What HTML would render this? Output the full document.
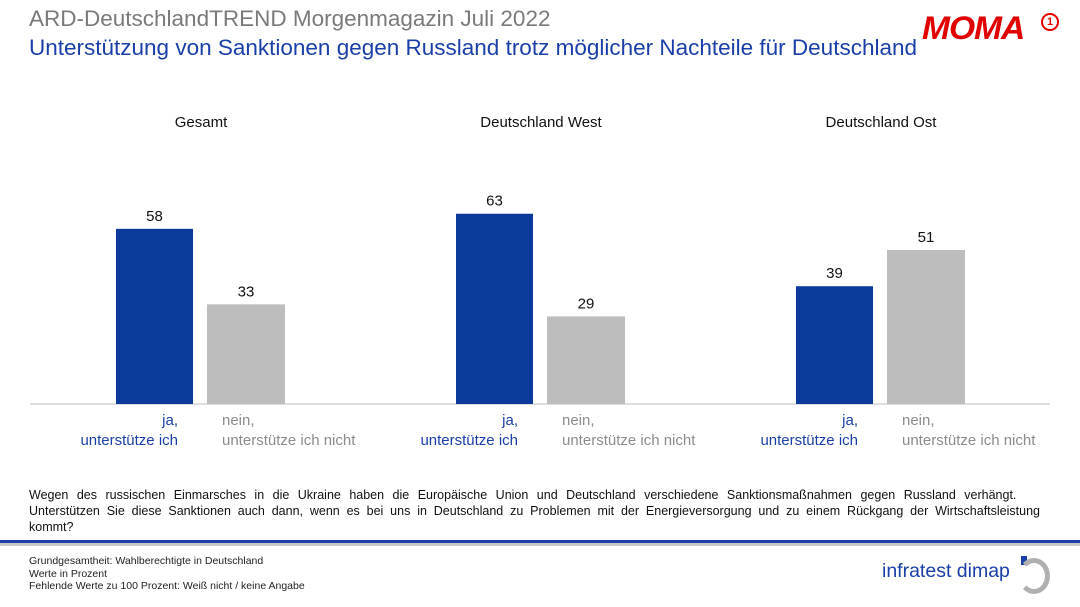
<!DOCTYPE html>
<html><head><meta charset="utf-8"><style>
body{margin:0;width:1080px;height:607px;background:#fff;font-family:"Liberation Sans",sans-serif;position:relative;overflow:hidden}
.a{position:absolute;white-space:nowrap}
.q{display:block;text-align:justify;text-align-last:justify;width:1011px}
</style></head><body>
<div class="a" style="left:29px;top:6px;font-size:22.5px;color:#7a7a7a">ARD-DeutschlandTREND Morgenmagazin Juli 2022</div>
<div class="a" style="left:29px;top:35px;font-size:22.5px;color:#1a3fa8">Unterstützung von Sanktionen gegen Russland trotz möglicher Nachteile für Deutschland</div>
<div class="a" style="left:922px;top:10px;font-size:32px;font-weight:900;font-style:italic;color:#e10000;letter-spacing:-1px;transform:scaleX(1.05);transform-origin:left">MOMA</div>
<div class="a" style="left:1041px;top:13px;width:14px;height:14px;border:2px solid #e10000;border-radius:50%;color:#e10000;font-size:11px;font-weight:bold;text-align:center;line-height:14px">1</div>
<svg id="chart" class="a" style="left:0;top:0" width="1080" height="480"></svg>
<div class="a" style="left:29px;top:487px;font-size:12.5px;color:#111;line-height:16px">
<span style="display:block;word-spacing:5px">Wegen des russischen Einmarsches in die Ukraine haben die Europäische Union und Deutschland verschiedene Sanktionsmaßnahmen gegen Russland verhängt.</span>
<span class="q">Unterstützen Sie diese Sanktionen auch dann, wenn es bei uns in Deutschland zu Problemen mit der Energieversorgung und zu einem Rückgang der Wirtschaftsleistung</span>
<span style="display:block">kommt?</span></div>
<div class="a" style="left:0;top:540px;width:1080px;height:3px;background:#1a3fa8"></div>
<div class="a" style="left:0;top:543px;width:1080px;height:3px;background:#c8c8c8"></div>
<div class="a" style="left:29px;top:555px;font-size:10.5px;color:#222;line-height:12.5px">Grundgesamtheit: Wahlberechtigte in Deutschland<br>Werte in Prozent<br>Fehlende Werte zu 100 Prozent: Weiß nicht / keine Angabe</div>
<div class="a" style="left:882px;top:560px;font-size:19.5px;color:#1a3fa8">infratest dimap</div>
<div class="a" style="left:1021px;top:556px;width:6px;height:9px;background:#1a3fa8"></div>
<div class="a" style="left:1018px;top:558px;width:22px;height:26px;border:5px solid #b0b0b0;border-left-color:transparent;border-radius:50%"></div>
<script>
const groups=["Gesamt","Deutschland West","Deutschland Ost"];
const jaValues=[58,63,39];
const neinValues=[33,29,51];
const svg=document.getElementById('chart');
const NS="http://www.w3.org/2000/svg";
const base=404,scale=3.02;
const y=v=>base-v*scale;
function mk(tag,attrs,txt){const e=document.createElementNS(NS,tag);for(const k in attrs)e.setAttribute(k,attrs[k]);if(txt!=null)e.textContent=txt;svg.appendChild(e);return e;}
const axis=mk('line',{x1:30,x2:1050,y1:base,y2:base,stroke:'#bdbdbd','stroke-width':1});


groups.forEach((g,i)=>{
  const gx=116+i*340;
  const t=mk('text',{x:gx+85,y:127,'text-anchor':'middle','font-size':15,fill:'#111'},g);
  
  
  const b1=mk('rect',{x:gx,y:y(jaValues[i]),width:77,height:jaValues[i]*scale,fill:'#0b3a9c'});
  
  
  const l1=mk('text',{x:gx+38.5,y:y(jaValues[i])-8,'text-anchor':'middle','font-size':15,fill:'#111'},jaValues[i]);
  
  
  const b2=mk('rect',{x:gx+91,y:y(neinValues[i]),width:78,height:neinValues[i]*scale,fill:'#bdbdbd'});
  
  
  const l2=mk('text',{x:gx+130,y:y(neinValues[i])-8,'text-anchor':'middle','font-size':15,fill:'#111'},neinValues[i]);
  
  
  const c1=mk('text',{x:gx+62,y:425,'text-anchor':'end','font-size':15,fill:'#1a3fa8'},'ja,');
  
  
  const c2=mk('text',{x:gx+62,y:445,'text-anchor':'end','font-size':15,fill:'#1a3fa8'},'unterstütze ich');
  
  
  const c3=mk('text',{x:gx+106,y:425,'font-size':15,fill:'#8c8c8c'},'nein,');
  
  
  const c4=mk('text',{x:gx+106,y:445,'font-size':15,fill:'#8c8c8c'},'unterstütze ich nicht');
  
  
});
</script>
</body></html>
